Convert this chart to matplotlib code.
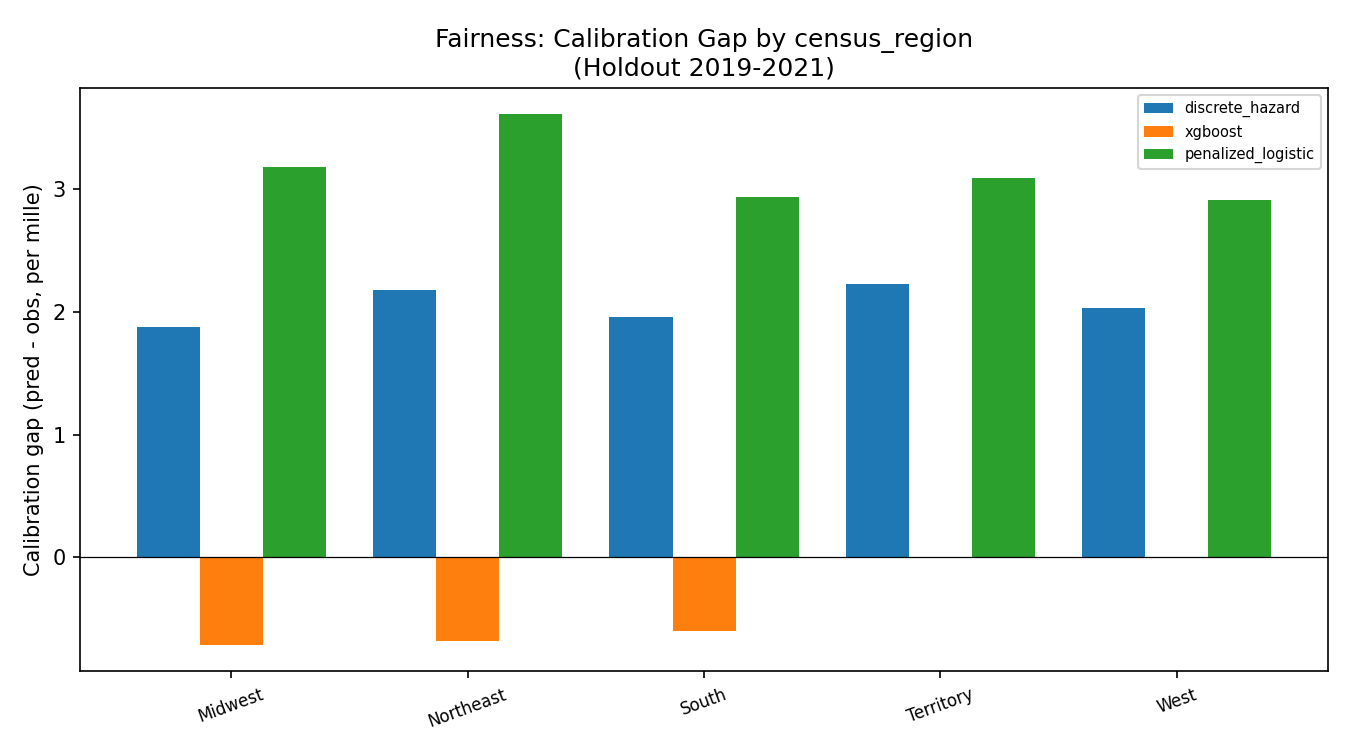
import numpy as np
import matplotlib
matplotlib.use("Agg")
import matplotlib.pyplot as plt

# ---- data ----
regions = ["Midwest", "Northeast", "South", "Territory", "West"]
discrete_hazard = [1.88, 2.18, 1.96, 2.23, 2.03]
xgboost = [-0.71, -0.68, -0.60, np.nan, np.nan]
penalized_logistic = [3.18, 3.61, 2.94, 3.09, 2.91]

models = ["discrete_hazard", "xgboost", "penalized_logistic"]
values = [discrete_hazard, xgboost, penalized_logistic]

fig, ax = plt.subplots(figsize=(9, 5), dpi=150)

x = np.arange(len(regions))
width = 0.8 / len(models)
for i, (name, vals) in enumerate(zip(models, values)):
    ax.bar(x + (i - 1) * width, vals, width=width, label=name)

ax.axhline(0, color="black", linewidth=0.6)
ax.set_xticks(x)
ax.set_xticklabels(regions, rotation=20, fontsize=8)
ax.set_ylabel("Calibration gap (pred - obs, per mille)")
ax.set_title("Fairness: Calibration Gap by census_region\n(Holdout 2019-2021)")
ax.legend(fontsize=7, loc="upper right")

fig.subplots_adjust(left=0.0593, right=0.9837, top=0.8827, bottom=0.1053)
plt.savefig("out.png", dpi=150)
